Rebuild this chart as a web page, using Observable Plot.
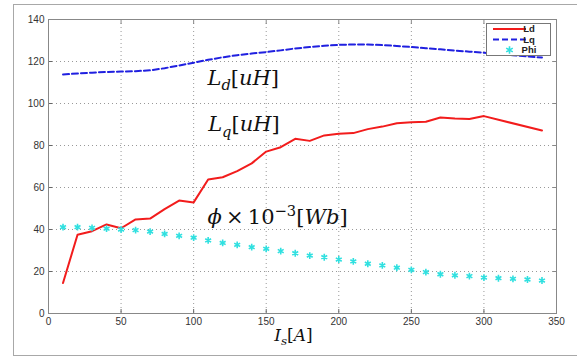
<!DOCTYPE html>
<html><head><meta charset="utf-8">
<script src="https://cdn.jsdelivr.net/npm/d3@7"></script>
<script src="https://cdn.jsdelivr.net/npm/@observablehq/plot@0.6"></script>
<style>
html,body{margin:0;padding:0;background:#fff;}
#wrap{position:relative;width:577px;height:357px;overflow:hidden;}
#border{position:absolute;left:13px;top:4px;width:620px;height:352px;box-sizing:border-box;border:1px solid #a8a8a8;}
#chart{position:absolute;left:0;top:0;}
</style></head><body>
<div id="wrap"><div id="border"></div><div id="chart"></div></div>
<script>
// ---- data ----
const ldCurrent = [10,20,30,40,50,60,70,80,90,100,110,120,130,140,150,160,170,180,190,200,210,220,230,240,250,260,270,280,290,300,340];
const ldValue   = [14.5,37.5,39.2,42.4,40.6,44.8,45.2,49.7,53.8,52.9,63.8,64.9,67.8,71.5,77.1,79.2,83.2,82.2,84.8,85.6,85.9,87.8,89.0,90.6,91.1,91.3,93.3,92.8,92.6,94.0,87.1];
const lqCurrent = [10,20,30,40,50,60,70,80,90,100,110,120,130,140,150,160,170,180,190,200,210,220,230,240,250,260,270,280,290,300,310,320,330,340];
const lqValue   = [113.8,114.3,114.7,115.0,115.2,115.4,115.8,116.8,118.1,119.4,120.8,122.0,123.0,123.8,124.5,125.3,126.2,126.9,127.5,127.9,128.1,128.1,127.8,127.4,126.9,126.3,125.8,125.2,124.7,124.2,123.6,123.0,122.4,121.9];
const phiCurrent = lqCurrent;
const phiValue  = [41.1,41.1,40.8,40.4,40.0,39.7,39.0,37.9,37.0,36.1,34.8,33.6,32.7,31.6,30.8,29.7,28.7,27.6,26.8,25.7,24.8,23.7,22.9,21.8,20.8,19.7,18.7,18.2,17.8,17.1,16.8,16.5,16.2,15.7];
const xTicks = [0,50,100,150,200,250,300,350];
const yTicks = [0,20,40,60,80,100,120,140];
const seriesNames = ["Ld","Lq","Phi"];
const seriesColors = ["#f21c1c","#2020e0","#30e0e0"];
const noteText = ["L_{d}[uH]","L_{q}[uH]","ϕ\u2009×\u200910^{−3}[Wb]"];
const noteX = [109.5,110,109.5];
const noteY = [109,86.7,42.4];
const xLabelText = ["I_{s}[A]"];
const xLabelX = [155.5];
const xLabelY = [-13.2];

const ld = ldCurrent.map((x,i)=>({x, y: ldValue[i]}));
const lq = lqCurrent.map((x,i)=>({x, y: lqValue[i]}));
const phi = phiCurrent.map((x,i)=>({x, y: phiValue[i]}));
const notes = noteText.map((t,i)=>({t, x: noteX[i], y: noteY[i]}));
const xl = xLabelText.map((t,i)=>({t, x: xLabelX[i], y: xLabelY[i]}));

const chart = Plot.plot({
  width: 577, height: 357,
  marginLeft: 48, marginRight: 21, marginTop: 19, marginBottom: 44,
  style: {fontFamily: "Liberation Sans, Arial, sans-serif", fontSize: "10px", color: "#333", background: "transparent"},
  x: {domain: [0,350], ticks: xTicks, label: null},
  y: {domain: [0,140], ticks: yTicks, label: null},
  marks: [
    Plot.gridX(xTicks.slice(1,-1), {stroke: "#999", strokeOpacity: 1, strokeDasharray: "1,3"}),
    Plot.gridY(yTicks.slice(1,-1), {stroke: "#999", strokeOpacity: 1, strokeDasharray: "1,3"}),
    Plot.axisX(xTicks, {anchor: "bottom", tickSize: -4, tickPadding: 8.5, stroke: "#666", fill: "#333", label: null}),
    Plot.axisY(yTicks, {anchor: "left", tickSize: -4, tickPadding: 8, stroke: "#666", fill: "#333", label: null}),
    Plot.axisX(xTicks, {anchor: "top", tickSize: -4, tickFormat: () => "", stroke: "#888", label: null}),
    Plot.axisY(yTicks, {anchor: "right", tickSize: -4, tickFormat: () => "", stroke: "#888", label: null}),
    Plot.frame({stroke: "#888"}),
    Plot.line(lq, {x: "x", y: "y", stroke: seriesColors[1], strokeWidth: 2, strokeDasharray: "6,3", curve: "linear"}),
    Plot.line(ld, {x: "x", y: "y", stroke: seriesColors[0], strokeWidth: 2}),
    Plot.dot(phi, {x: "x", y: "y", symbol: "asterisk", r: 3.2, stroke: seriesColors[2], strokeWidth: 1.6}),
    Plot.text(notes, {x: "x", y: "y", text: "t", textAnchor: "start", lineAnchor: "bottom", fontSize: 21, fill: "#111", className: "rich"}),
    Plot.text(xl, {x: "x", y: "y", text: "t", textAnchor: "start", lineAnchor: "bottom", fontSize: 17, fill: "#111", className: "rich"})
  ]
});
document.getElementById("chart").appendChild(chart);

// convert TeX-like strings into tspans
const NS = "http://www.w3.org/2000/svg";
function richify(el, str, fs) {
  el.textContent = "";
  el.setAttribute("font-family", "DejaVu Serif, serif");
  let shift = 0;
  const add = (s, mode) => {
    for (const ch of s) {
      const t = document.createElementNS(NS, "tspan");
      t.textContent = ch;
      const italic = /[A-Za-zϕφ]/.test(ch);
      t.setAttribute("font-style", italic ? "italic" : "normal");
      let target = 0, size = fs;
      if (mode === "sub") { target = 0.25*fs; size = 0.7*fs; }
      if (mode === "sup") { target = -0.42*fs; size = 0.7*fs; }
      t.setAttribute("font-size", size);
      if (target !== shift) { t.setAttribute("dy", target - shift); shift = target; }
      el.appendChild(t);
    }
  };
  let i = 0;
  while (i < str.length) {
    const c = str[i];
    if ((c === "_" || c === "^") && str[i+1] === "{") {
      const j = str.indexOf("}", i);
      add(str.slice(i+2, j), c === "_" ? "sub" : "sup");
      i = j + 1;
    } else { add(c, "normal"); i++; }
  }
}
d3.select(chart).selectAll("g.rich text").each(function() {
  const s = this.textContent;
  const fs = s.startsWith("I") ? 17 : 21;
  richify(this, s, fs);
});

// legend box inside the axes
const svg = d3.select(chart);
const lg = svg.append("g").attr("font-family", "Liberation Sans, Arial, sans-serif").attr("font-size", 9.5);
lg.append("rect").attr("x", 486.5).attr("y", 23.5).attr("width", 64).attr("height", 32).attr("fill", "#fff").attr("stroke", "#777");
const rowY = [29, 39.5, 50];
seriesNames.forEach((n, i) => {
  if (i === 0) lg.append("line").attr("x1", 493).attr("x2", 526).attr("y1", rowY[i]).attr("y2", rowY[i]).attr("stroke", seriesColors[0]).attr("stroke-width", 2);
  if (i === 1) lg.append("line").attr("x1", 493).attr("x2", 526).attr("y1", rowY[i]).attr("y2", rowY[i]).attr("stroke", seriesColors[1]).attr("stroke-width", 2).attr("stroke-dasharray", "6,3");
  if (i === 2) lg.append("path").attr("transform", `translate(509.5,${rowY[i]})`).attr("d", d3.symbol(d3.symbolAsterisk, 40)()).attr("stroke", seriesColors[2]).attr("stroke-width", 1.6).attr("fill", "none");
  lg.append("text").attr("x", 529).attr("y", rowY[i]).attr("dy", "0.35em").attr("fill", "#222").attr("font-weight", "bold").text(n);
});
</script>
</body></html>
